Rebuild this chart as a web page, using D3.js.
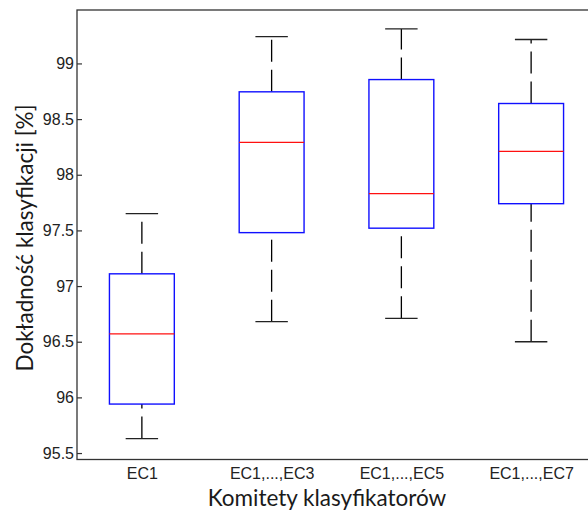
<!DOCTYPE html>
<html>
<head>
<meta charset="utf-8">
<script src="https://cdn.jsdelivr.net/npm/d3@7"></script>
<style>
  body { margin: 0; background: #fff; }
  svg { display: block; }
</style>
</head>
<body>
<svg id="box-svg" width="588" height="516"></svg>
<script>
// data
const categories = ["EC1", "EC1,...,EC3", "EC1,...,EC5", "EC1,...,EC7"];
const lowerWhisker = [95.63, 96.68, 96.71, 96.50];
const q1 = [95.94, 97.48, 97.52, 97.74];
const medians = [96.57, 98.29, 97.83, 98.21];
const q3 = [97.11, 98.745, 98.855, 98.64];
const upperWhisker = [97.65, 99.24, 99.31, 99.215];
const yTicks = [95.5, 96, 96.5, 97, 97.5, 98, 98.5, 99];

const MARGIN = {left: 77, top: 10, bottom: 56.5};
const WIDTH = 596;   // right edge of the axes box sits past the window
const HEIGHT = 516;

const svg = d3.select("#box-svg");

// scales
const xScale = d3.scaleLinear()
  .domain([0.5, categories.length + 0.5])
  .range([MARGIN.left, WIDTH]);

const yScale = d3.scaleLinear()
  .domain([95.442, 99.48])
  .range([HEIGHT - MARGIN.bottom, MARGIN.top]);

const boxes = categories.map((c, i) => ({
  name: c, pos: i + 1,
  lo: lowerWhisker[i], q1: q1[i], med: medians[i], q3: q3[i], hi: upperWhisker[i]
}));

const boxW = (xScale(2) - xScale(1)) * 0.5;
const capW = boxW * 0.5;

// y axis, ticks point inside
svg.append("g")
  .attr("transform", `translate(${MARGIN.left},0)`)
  .call(d3.axisRight(yScale).tickValues(yTicks).tickSize(5).tickFormat(d3.format("")))
  .call(g => g.select(".domain").remove())
  .call(g => g.selectAll(".tick line").attr("stroke", "#333").attr("stroke-width", 1.2))
  .call(g => g.selectAll(".tick text")
    .attr("x", -3)
    .attr("text-anchor", "end")
    .attr("fill", "#222")
    .style("font-family", "'Liberation Sans', Arial, sans-serif")
    .style("font-size", "16px"));

// x tick labels
svg.append("g")
  .attr("transform", `translate(0,${HEIGHT - MARGIN.bottom})`)
  .call(d3.axisBottom(xScale).tickValues(boxes.map(d => d.pos)).tickSize(0)
    .tickFormat((d, i) => categories[i]))
  .call(g => g.select(".domain").remove())
  .call(g => g.selectAll(".tick text")
    .attr("y", 8)
    .attr("fill", "#222")
    .style("font-family", "'Liberation Sans', Arial, sans-serif")
    .style("font-size", "16px"));

// axes frame
svg.append("rect")
  .attr("x", MARGIN.left)
  .attr("y", MARGIN.top)
  .attr("width", WIDTH - MARGIN.left)
  .attr("height", HEIGHT - MARGIN.bottom - MARGIN.top)
  .attr("fill", "none")
  .attr("stroke", "#333")
  .attr("stroke-width", 1.3);

const plot = svg.append("g");

// whiskers, dashed, drawn from lower value to higher value
plot.selectAll("line.w-lo")
  .data(boxes)
  .join("line")
  .attr("class", "w-lo")
  .attr("x1", d => xScale(d.pos)).attr("x2", d => xScale(d.pos))
  .attr("y1", d => yScale(d.lo)).attr("y2", d => yScale(d.q1));

plot.selectAll("line.w-hi")
  .data(boxes)
  .join("line")
  .attr("class", "w-hi")
  .attr("x1", d => xScale(d.pos)).attr("x2", d => xScale(d.pos))
  .attr("y1", d => yScale(d.q3)).attr("y2", d => yScale(d.hi));

plot.selectAll("line.w-lo, line.w-hi")
  .attr("stroke", "#000")
  .attr("stroke-width", 1.3)
  .attr("stroke-dasharray", "22,8");

// caps
["lo", "hi"].forEach(k => {
  plot.selectAll("line.cap-" + k)
    .data(boxes)
    .join("line")
    .attr("class", "cap-" + k)
    .attr("x1", d => xScale(d.pos) - capW / 2)
    .attr("x2", d => xScale(d.pos) + capW / 2)
    .attr("y1", d => yScale(d[k]))
    .attr("y2", d => yScale(d[k]))
    .attr("stroke", "#222")
    .attr("stroke-width", 1.3);
});

// boxes
plot.selectAll("rect.box")
  .data(boxes)
  .join("rect")
  .attr("class", "box")
  .attr("x", d => xScale(d.pos) - boxW / 2)
  .attr("y", d => yScale(d.q3))
  .attr("width", boxW)
  .attr("height", d => yScale(d.q1) - yScale(d.q3))
  .attr("fill", "none")
  .attr("stroke", "#1010ff")
  .attr("stroke-width", 1.4);

// medians
plot.selectAll("line.med")
  .data(boxes)
  .join("line")
  .attr("class", "med")
  .attr("x1", d => xScale(d.pos) - boxW / 2)
  .attr("x2", d => xScale(d.pos) + boxW / 2)
  .attr("y1", d => yScale(d.med))
  .attr("y2", d => yScale(d.med))
  .attr("stroke", "#ff1010")
  .attr("stroke-width", 1.3);

// axis titles
svg.append("text")
  .attr("x", 327)
  .attr("y", 506)
  .attr("text-anchor", "middle")
  .attr("fill", "#1a1a1a")
  .style("font-family", "Lato, 'Open Sans', sans-serif")
  .style("font-size", "22.5px")
  .text("Komitety klasyfikatorów");

svg.append("text")
  .attr("transform", "translate(33,238) rotate(-90)")
  .attr("text-anchor", "middle")
  .attr("fill", "#1a1a1a")
  .style("font-family", "Lato, 'Open Sans', sans-serif")
  .style("font-size", "22.5px")
  .text("Dokładność klasyfikacji [%]");
</script>
</body>
</html>
